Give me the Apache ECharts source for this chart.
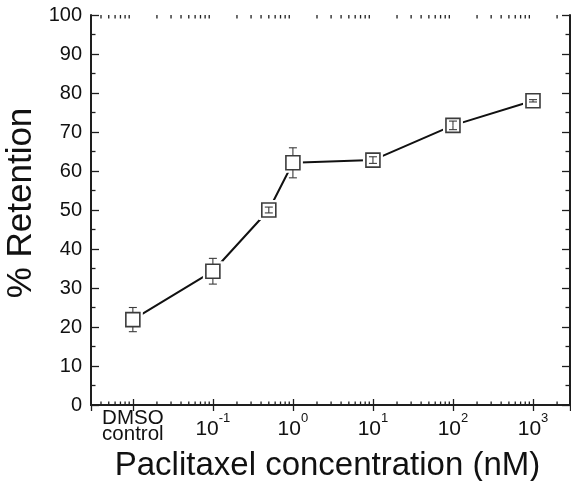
<!DOCTYPE html>
<html><head><meta charset="utf-8">
<script src="https://cdn.jsdelivr.net/npm/echarts@6/dist/echarts.min.js"></script>
<style>html,body{margin:0;padding:0;background:#fff}#c{width:571px;height:481px}</style>
</head><body><div id="c"></div>
<script>
// x positions (nM); DMSO control is plotted at the 10^-2 position
const concentrations = [0.01, 0.1, 0.5, 1, 10, 100, 1000];
const retention = [21.9, 34.3, 50.0, 62.1, 62.8, 71.7, 78.0];
const errors = [3.1, 3.3, 0.75, 3.85, 0.85, 1.1, 0.3];
const xTickLabels = {
  '-2': '{d1|DMSO}\n{d2|control}',
  '-1': '{b|10}{s|-1}',
  '0': '{b|10}{s|0}',
  '1': '{b|10}{s|1}',
  '2': '{b|10}{s|2}',
  '3': '{b|10}{s|3}'
};
const xMinorTicks = [0.004,0.005,0.006,0.007,0.008,0.009,
  0.02,0.03,0.04,0.05,0.06,0.07,0.08,0.09,
  0.2,0.3,0.4,0.5,0.6,0.7,0.8,0.9,
  2,3,4,5,6,7,8,9,20,30,40,50,60,70,80,90,
  200,300,400,500,600,700,800,900,2000];
const xMin = 0.003, xMax = 2900;
const yMin = 0, yMax = 100, yStep = 10;

const AX = '#1e1e1e';
const FONT = 'Liberation Sans, Arial, sans-serif';
const chart = echarts.init(document.getElementById('c'), null, {renderer: 'canvas'});

const pts = concentrations.map((c, i) => [c, retention[i]]);
const errData = concentrations.map((c, i) => [c, retention[i], errors[i]]);

function expKey(v) { return String(Math.round(Math.log10(v) * 1000) / 1000); }

chart.setOption({
  animation: false,
  backgroundColor: '#fff',
  grid: {left: 91, right: 1, top: 15, bottom: 76, containLabel: false, outerBoundsMode: 'none'},
  xAxis: [{
    type: 'log', logBase: 10, min: xMin, max: xMax, splitNumber: 6,
    position: 'bottom',
    name: 'Paclitaxel concentration (nM)', nameLocation: 'middle', nameGap: 33,
    nameTextStyle: {fontFamily: FONT, fontSize: 33, color: '#111', padding: [0, 6, 0, 0]},
    axisLine: {show: true, lineStyle: {color: AX, width: 2}},
    axisTick: {show: true, inside: true, length: 6, lineStyle: {color: AX, width: 1.3}},
    splitLine: {show: false},
    axisLabel: {
      margin: 7, color: '#111', fontFamily: FONT, fontSize: 20,
      showMinLabel: false, showMaxLabel: false,
      formatter: v => xTickLabels[expKey(v)] || '',
      rich: {
        b: {fontFamily: FONT, fontSize: 21, lineHeight: 34, color: '#111'},
        s: {fontFamily: FONT, fontSize: 13, lineHeight: 12, verticalAlign: 'top', color: '#111'},
        d1: {fontFamily: FONT, fontSize: 20.5, lineHeight: 13, color: '#111'},
        d2: {fontFamily: FONT, fontSize: 20.5, lineHeight: 18, color: '#111'}
      }
    }
  }, {
    type: 'log', logBase: 10, min: xMin, max: xMax, splitNumber: 6,
    position: 'top',
    axisLine: {show: true, lineStyle: {color: AX, width: 2}},
    axisTick: {show: true, inside: true, length: 6, lineStyle: {color: AX, width: 1.3}},
    axisLabel: {show: false}, splitLine: {show: false}
  }],
  yAxis: [{
    type: 'value', min: yMin, max: yMax, interval: yStep, position: 'left',
    name: '% Retention', nameLocation: 'middle', nameGap: 52, nameRotate: 90,
    nameMoveOverlap: false,
    nameTextStyle: {fontFamily: FONT, fontSize: 35, color: '#111', padding: [0, 0, 0, 14]},
    axisLine: {show: true, lineStyle: {color: AX, width: 2}},
    axisTick: {show: true, inside: true, length: 8, lineStyle: {color: AX, width: 1.3}},
    minorTick: {show: true, splitNumber: 2, length: 4.5, lineStyle: {color: AX, width: 1.3}},
    splitLine: {show: false},
    axisLabel: {margin: 9, color: '#111', fontFamily: FONT, fontSize: 20}
  }, {
    type: 'value', min: yMin, max: yMax, interval: yStep, position: 'right',
    axisLine: {show: true, lineStyle: {color: AX, width: 2}},
    axisTick: {show: true, inside: true, length: 8, lineStyle: {color: AX, width: 1.3}},
    minorTick: {show: true, splitNumber: 2, length: 4.5, lineStyle: {color: AX, width: 1.3}},
    splitLine: {show: false}, axisLabel: {show: false}
  }],
  series: [
    {
      type: 'custom', xAxisIndex: 0, yAxisIndex: 0, silent: true, clip: false,
      data: xMinorTicks.map(v => [v, 0]),
      encode: {x: 0, y: 1},
      renderItem: (params, api) => {
        const v = api.value(0);
        const b = api.coord([v, yMin]);
        const t = api.coord([v, yMax]);
        const st = {stroke: AX, lineWidth: 1.3};
        return {type: 'group', children: [
          {type: 'line', shape: {x1: b[0], y1: b[1], x2: b[0], y2: b[1] - 3.5}, style: st},
          {type: 'line', shape: {x1: t[0], y1: t[1], x2: t[0], y2: t[1] + 3.5}, style: st}
        ]};
      }
    },
    {
      type: 'line', xAxisIndex: 0, yAxisIndex: 0, data: pts, showSymbol: false,
      lineStyle: {color: '#111', width: 2}, silent: true, z: 2
    },
    {
      type: 'scatter', xAxisIndex: 0, yAxisIndex: 0, data: pts, symbol: 'rect', symbolSize: 20,
      itemStyle: {color: '#fff', borderWidth: 0, opacity: 1}, silent: true, z: 3
    },
    {
      type: 'scatter', xAxisIndex: 0, yAxisIndex: 0, data: pts, symbol: 'rect', symbolSize: 14,
      itemStyle: {color: '#fff', borderColor: '#3c3c3c', borderWidth: 1.6, opacity: 1}, silent: true, z: 4
    },
    {
      type: 'custom', xAxisIndex: 0, yAxisIndex: 0, silent: true, z: 5,
      data: errData, encode: {x: 0, y: 1},
      renderItem: (params, api) => {
        const x = api.value(0), y = api.value(1), e = api.value(2);
        const c = api.coord([x, y]);
        const hi = api.coord([x, y + e]);
        const lo = api.coord([x, y - e]);
        const half = 7, cap = 4;
        const st = {stroke: '#3c3c3c', lineWidth: 1.1};
        const seg = (ye) => {
          const d = ye - c[1];
          const start = Math.abs(d) > half ? c[1] + Math.sign(d) * half : c[1];
          return {type: 'line', shape: {x1: c[0], y1: start, x2: c[0], y2: ye}, style: st};
        };
        return {type: 'group', children: [
          seg(hi[1]), seg(lo[1]),
          {type: 'line', shape: {x1: c[0] - cap, y1: hi[1], x2: c[0] + cap, y2: hi[1]}, style: st},
          {type: 'line', shape: {x1: c[0] - cap, y1: lo[1], x2: c[0] + cap, y2: lo[1]}, style: st}
        ]};
      }
    }
  ]
});
</script>
</body></html>
